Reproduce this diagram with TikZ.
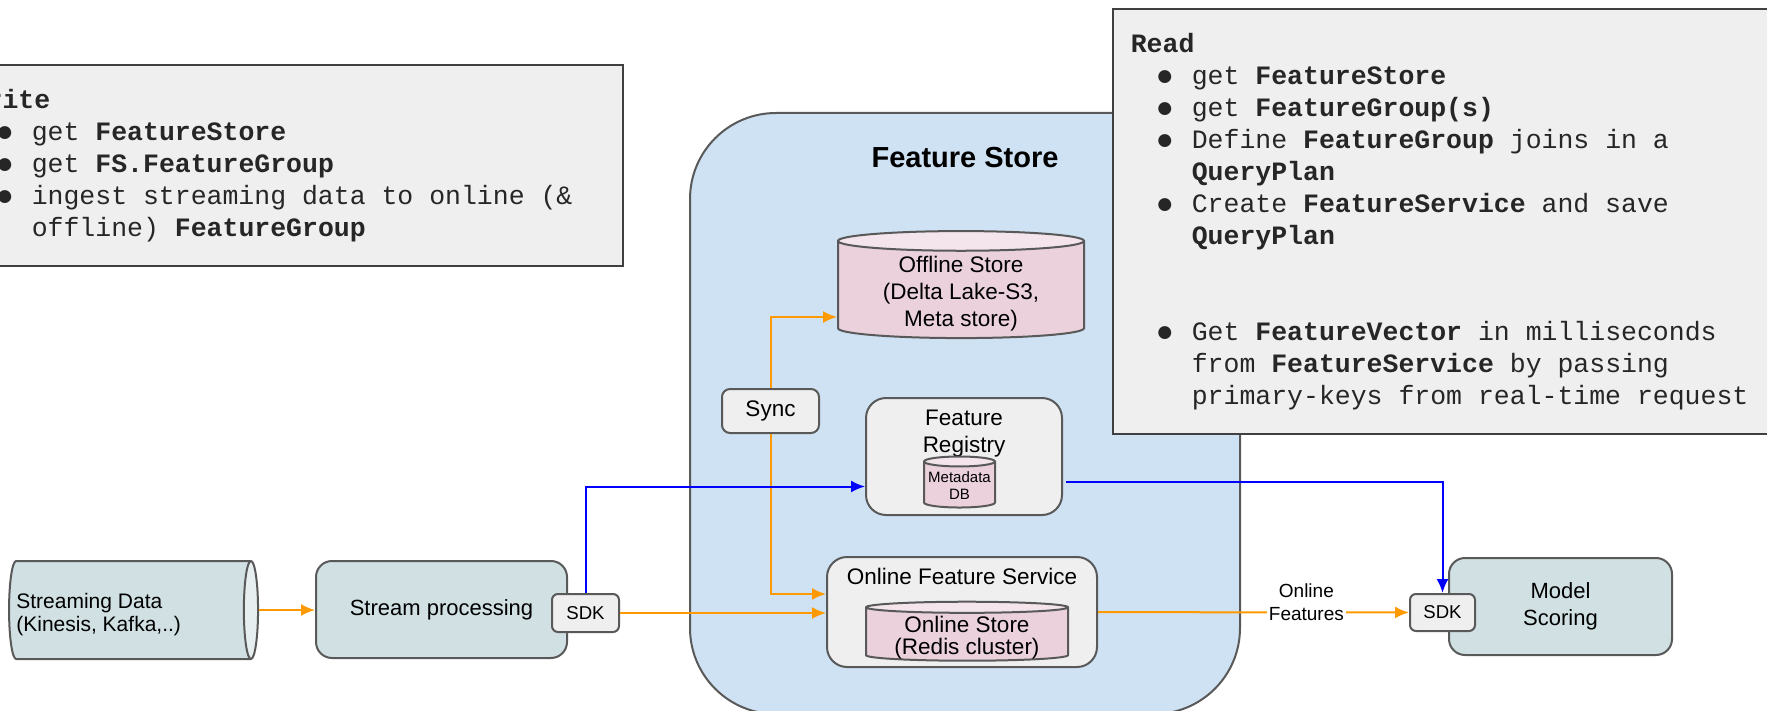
\documentclass[tikz,border=0pt]{standalone}
\usepackage{fontspec}
\setmainfont{Liberation Sans}
\newfontfamily\codefont{Liberation Mono}
\usetikzlibrary{shapes.geometric,arrows.meta,calc}

\definecolor{fsblue}{HTML}{CFE2F3}
\definecolor{boxgray}{HTML}{EFEFEF}
\definecolor{dbpink}{HTML}{EAD1DC}
\definecolor{dbpinktop}{HTML}{F3E5EB}
\definecolor{procteal}{HTML}{D0E0E3}
\definecolor{proctealtop}{HTML}{E6EEF0}
\definecolor{edge}{HTML}{595959}
\definecolor{syncorange}{HTML}{FF9900}
\definecolor{metablue}{HTML}{0000FF}

% bullet, hanging indent and fixed word space for the code notes
\newcommand{\listbul}{\hspace*{12pt}\makebox[10pt][c]{\raisebox{-0.5pt}{\fontsize{15}{15}\selectfont ●}}\hspace*{8.5pt}}
\newcommand{\listcont}{\hspace*{30.5pt}}
\newcommand{\monospace}{\spaceskip=0.6em\relax}

\begin{document}
\begin{tikzpicture}[x=0.5pt,y=-0.5pt]
    \tikzstyle{note}=[draw=black!75, line width=0.8pt, fill=boxgray, anchor=north west, align=left, inner xsep=9pt, text=black!85, font=\codefont\fontsize{13.25}{16}\selectfont]
    \tikzstyle{storebg}=[draw=edge, line width=1pt, fill=fsblue, rounded corners=43pt]
    \tikzstyle{box}=[draw=edge, line width=1pt, fill=boxgray, rounded corners=5pt, align=center, inner sep=1pt, font=\fontsize{11.25}{13.5}\selectfont]
    \tikzstyle{tealbox}=[box, fill=procteal, rounded corners=8pt, font=\fontsize{11}{13.5}\selectfont]
    \tikzstyle{sdkbox}=[box, rounded corners=3pt, font=\fontsize{9.3}{11}\selectfont]
    \tikzstyle{db}=[cylinder, shape border rotate=90, draw=edge, line width=1pt, cylinder uses custom fill, cylinder body fill=dbpink, cylinder end fill=dbpinktop, inner sep=0pt]
    \tikzstyle{txt}=[align=center, inner sep=0pt, font=\fontsize{11.25}{13.5}\selectfont]

    \useasboundingbox (0,0) rectangle (1767,711);
    \clip (0,0) rectangle (1767,711);

    % feature store container
    \node[storebg, minimum width=275pt, minimum height=300.5pt] (fs) at (965,413.5) {};
    \node[txt, font=\bfseries\fontsize{14.5}{17}\selectfont] (fstitle) at (965,158) {Feature Store};

    % cylinders get their diameter from an empty box of that width
    \node[db, minimum height=53.5pt, aspect=0.08] (offline) at (961,290) {\hspace*{123pt}};
    \node[txt] (offtext) at (961,294) {Offline Store\\(Delta Lake-S3,\\Meta store)};
    \node[box, minimum width=48.5pt, minimum height=22pt, rounded corners=4pt] (sync) at (770.5,411) {Sync};

    \node[box, minimum width=98pt, minimum height=58.5pt, rounded corners=10pt] (reg) at (964,456.5) {};
    \node[txt] (regtext) at (964,434) {Feature\\Registry};
    \node[db, minimum height=25.5pt, aspect=0.14] (metadb) at (959.5,485) {\hspace*{35.5pt}};
    \node[txt, font=\fontsize{7.5}{8.5}\selectfont] (metatext) at (959.5,486) {Metadata\\DB};

    \node[box, minimum width=135pt, minimum height=55pt, rounded corners=10pt] (ofs) at (962,612) {};
    \node[txt] (ofstext) at (962,576) {Online Feature Service};
    \node[db, minimum height=29.5pt, aspect=0.055] (onstore) at (967,634.5) {\hspace*{101pt}};
    \node[txt, font=\fontsize{11.25}{11}\selectfont] (onstext) at (967,638) {Online Store\\(Redis cluster)};

    % ingest side
    \node[cylinder, draw=edge, line width=1pt, cylinder uses custom fill, cylinder body fill=procteal, cylinder end fill=proctealtop, inner sep=0pt, minimum height=124.5pt, aspect=0.145] (stream) at (129.5,610) {\rule{0pt}{49pt}};
    \node[txt, anchor=west, align=left, font=\fontsize{10.5}{11.5}\selectfont] (streamtext) at (16,615) {Streaming Data\\(Kinesis, Kafka,..)};
    \node[tealbox, minimum width=125.5pt, minimum height=48.5pt] (proc) at (441.5,609.5) {Stream processing};
    \node[sdkbox, minimum width=33.5pt, minimum height=19pt] (sdk1) at (585.5,613) {SDK};

    % serving side
    \node[tealbox, minimum width=111.5pt, minimum height=48.5pt] (score) at (1560.5,606.5) {Model\\Scoring};
    \node[sdkbox, minimum width=32.5pt, minimum height=18.5pt] (sdk2) at (1442.5,612.5) {SDK};

    % notes
    \node[note, text width=317pt, minimum height=100.5pt] (write) at (-48,64) {\monospace
        \textbf{Write}\\
        \listbul get \textbf{FeatureStore}\\
        \listbul get \textbf{FS.FeatureGroup}\\
        \listbul ingest streaming data to online (\&\\
        \listcont offline) \textbf{FeatureGroup}};
    \node[note, text width=340pt, minimum height=212.5pt] (read) at (1112,8) {\monospace
        \textbf{Read}\\
        \listbul get \textbf{FeatureStore}\\
        \listbul get \textbf{FeatureGroup(s)}\\
        \listbul Define \textbf{FeatureGroup} joins in a\\
        \listcont\textbf{QueryPlan}\\
        \listbul Create \textbf{FeatureService} and save\\
        \listcont\textbf{QueryPlan}\\[32pt]
        \listbul Get \textbf{FeatureVector} in milliseconds\\
        \listcont from \textbf{FeatureService} by passing\\
        \listcont primary-keys from real-time request};

    \tikzstyle{flow} = [draw=syncorange, line width=1pt, -{Latex[length=7pt,width=6pt]}]
    \tikzstyle{meta} = [flow, draw=metablue]

    \draw [flow] (stream.east) -- (stream.east -| proc.west);
    \draw [flow] (sdk1) -- (sdk1 -| ofs.west);
    \draw [flow] (sync.north) |- ($(offline.west)+(0,27)$);
    \draw [flow] (sync.south) |- ($(ofs.west)+(0,-18)$);
    \draw [meta] (sdk1.north) |- ($(reg.west)+(0,30)$);
    \draw [meta] ($(reg.east)+(3,25)$) -| (sdk2.north);
    \draw [flow] (ofs) -- (sdk2)
        node[pos=0.67, fill=white, yshift=5pt, inner sep=1pt, align=center, font=\fontsize{9.5}{11.25}\selectfont] (olabel) {Online\\Features};

\end{tikzpicture}
\end{document}
